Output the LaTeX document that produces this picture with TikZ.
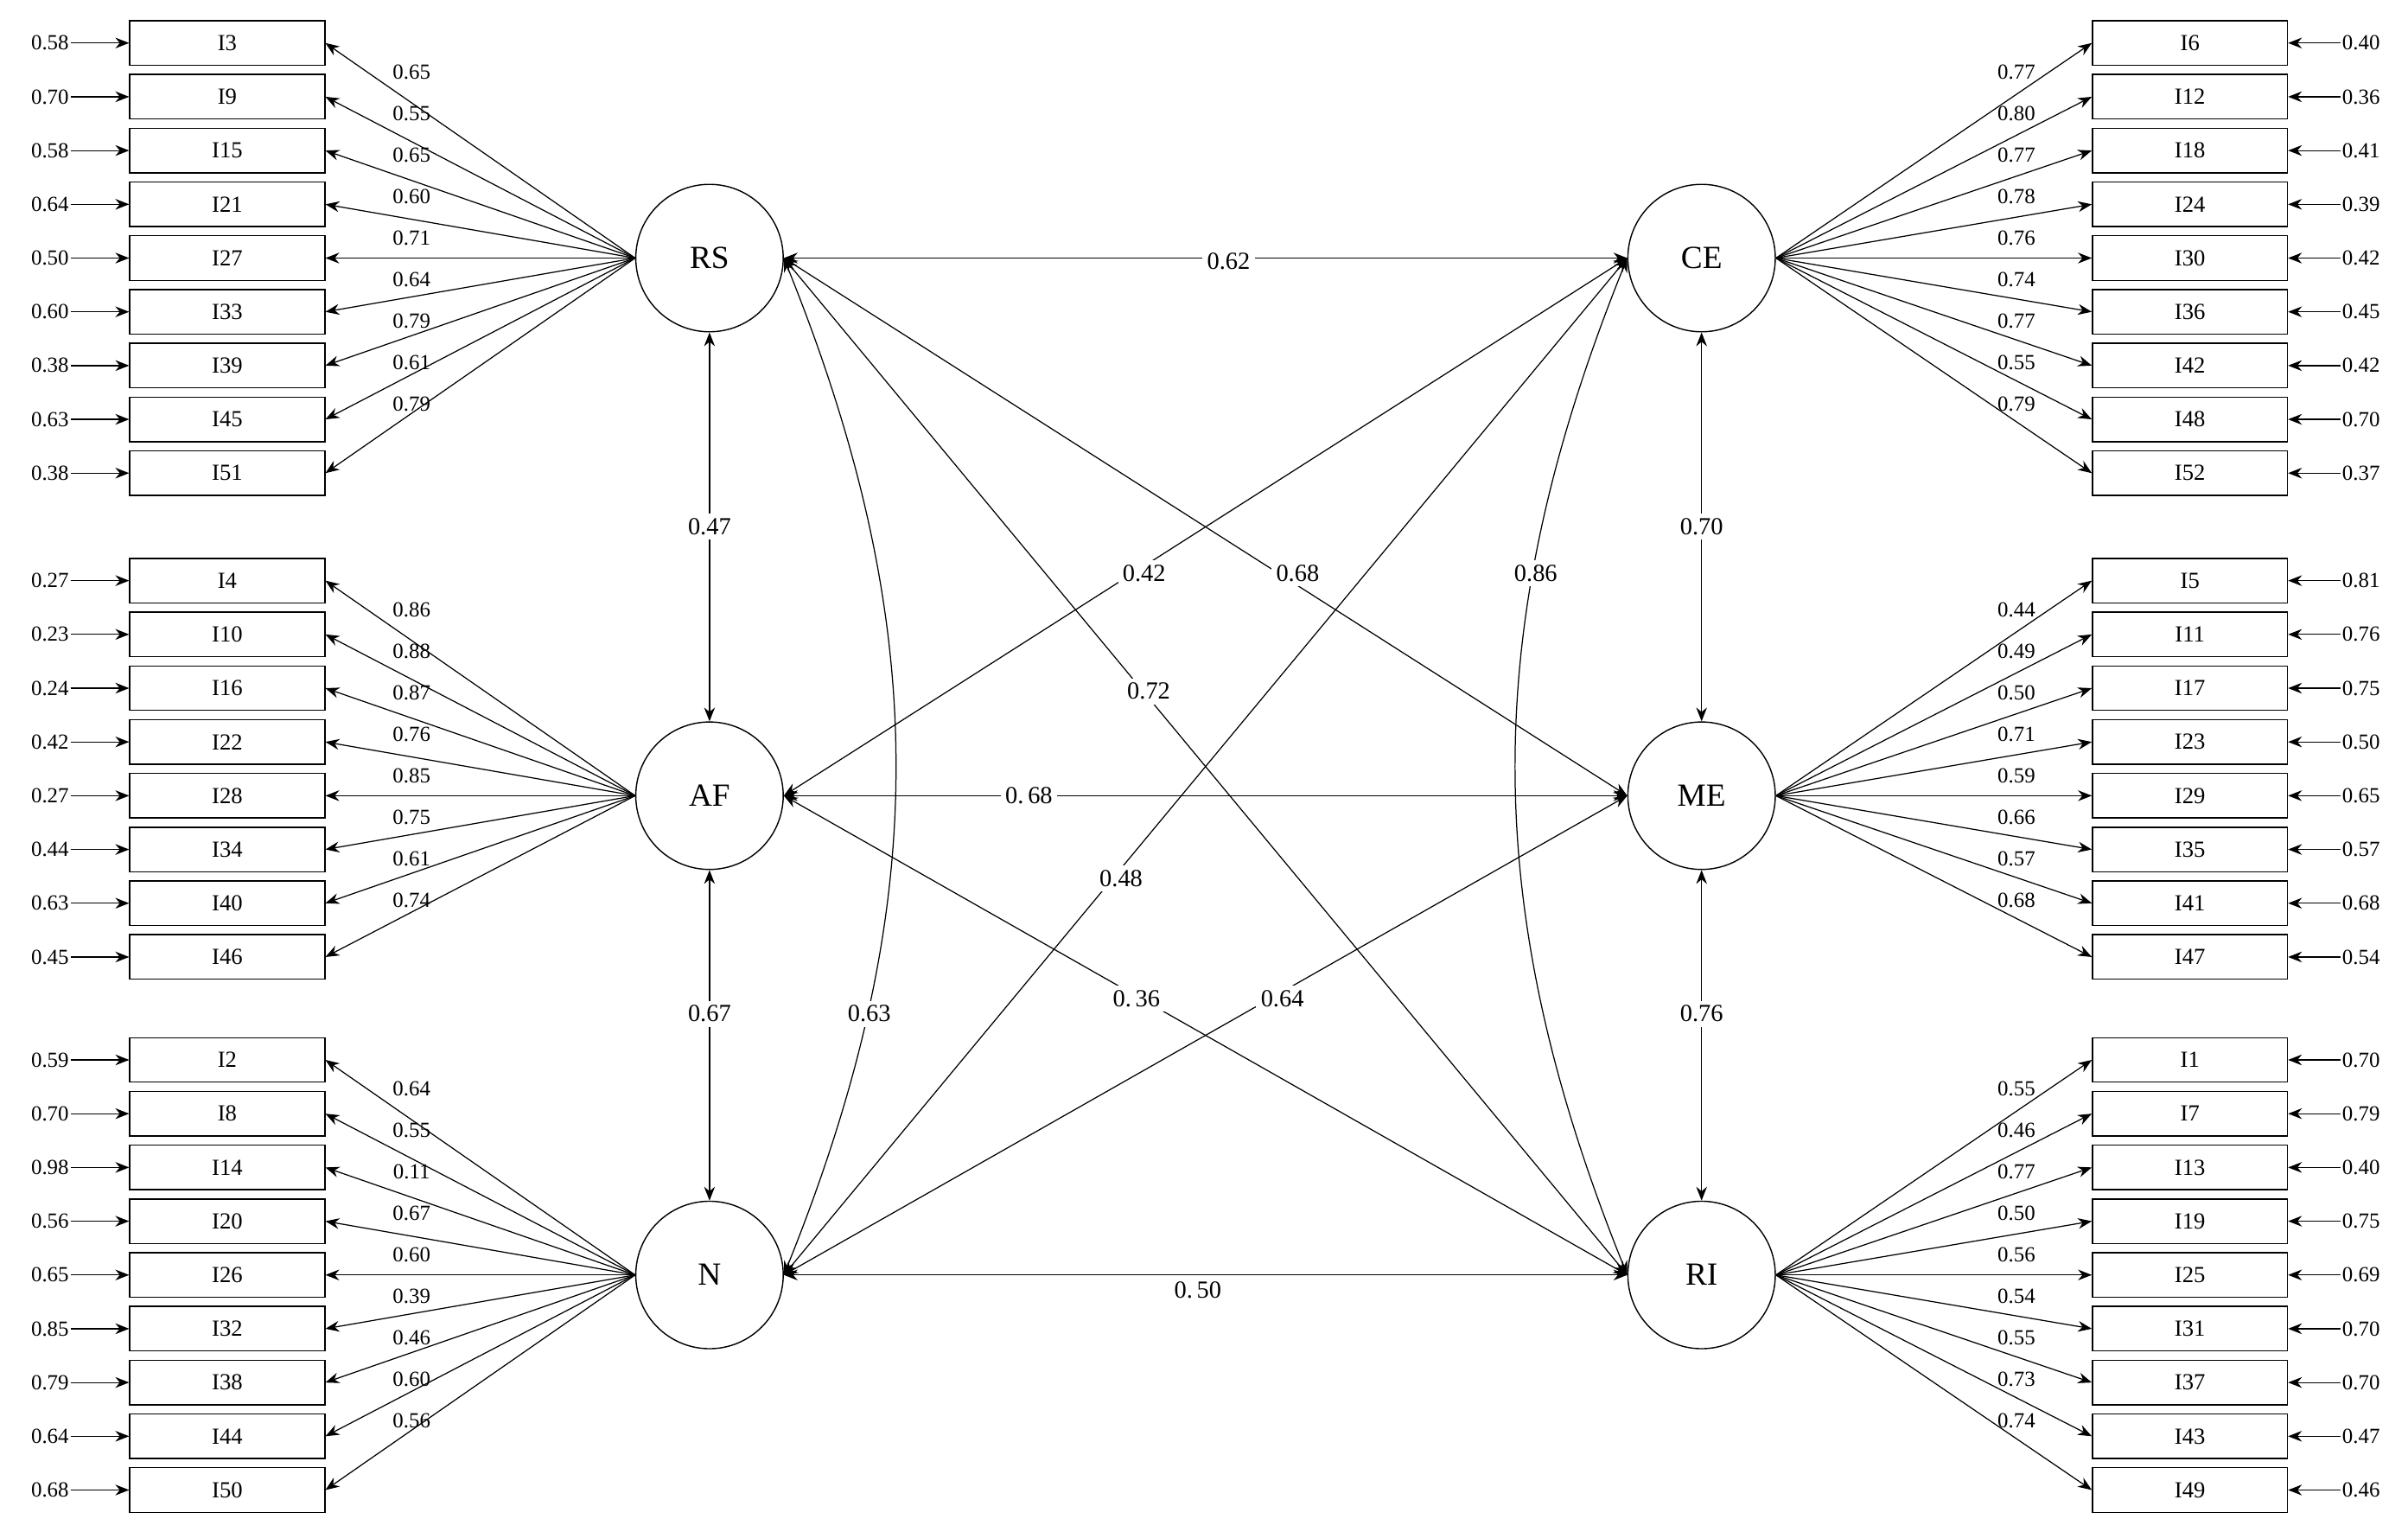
\documentclass[tikz,border=0pt]{standalone}
\usepackage{fontspec}
\setmainfont{Liberation Serif}
\usetikzlibrary{arrows.meta}
\begin{document}
\begin{tikzpicture}[x=1pt,y=-1pt,
  box/.style={draw,line width=0.8pt,minimum width=127pt,minimum height=29pt,inner sep=0pt,font=\fontsize{15}{16}\selectfont},
  lat/.style={draw,circle,line width=0.8pt,minimum size=96pt,inner sep=0pt,font=\fontsize{21}{22}\selectfont},
  num/.style={font=\fontsize{14}{15}\selectfont,inner sep=1pt},
  snum/.style={font=\fontsize{16}{17}\selectfont,fill=white,inner sep=3pt},
  arr/.style={-{Stealth[length=9pt,width=7pt]},line width=0.7pt},
  darr/.style={{Stealth[length=9pt,width=7pt]}-{Stealth[length=9pt,width=7pt]},line width=0.7pt}]
\useasboundingbox (0,0) rectangle (1568,1001);
\node[lat] (RS) at (462,168) {RS};
\node[lat] (AF) at (462,518) {AF};
\node[lat] (N) at (462,830) {N};
\node[lat] (CE) at (1108,168) {CE};
\node[lat] (ME) at (1108,518) {ME};
\node[lat] (RI) at (1108,830) {RI};
\newcommand\leftgroup[3]{%
 \foreach \a/\b/\c [count=\i from 0] in {#3} {
  \pgfmathsetmacro\yy{#2+35*\i}
  \pgfmathsetmacro\ly{#2+19+27*\i}
  \node[box] (b\a) at (148,\yy) {\a};
  \node[num,anchor=east] (e\a) at (46,\yy) {\b};
  \draw[arr] (e\a.east) -- (b\a.west);
  \draw[arr] (#1.west) -- (b\a.east);
  \node[num] at (268,\ly) {\c};
 }}
\newcommand\rightgroup[3]{%
 \foreach \a/\b/\c [count=\i from 0] in {#3} {
  \pgfmathsetmacro\yy{#2+35*\i}
  \pgfmathsetmacro\ly{#2+19+27*\i}
  \node[box] (b\a) at (1426,\yy) {\a};
  \node[num,anchor=west] (e\a) at (1524,\yy) {\b};
  \draw[arr] (e\a.west) -- (b\a.east);
  \draw[arr] (#1.east) -- (b\a.west);
  \node[num] at (1313,\ly) {\c};
 }}
\leftgroup{RS}{28}{I3/0.58/0.65,I9/0.70/0.55,I15/0.58/0.65,I21/0.64/0.60,I27/0.50/0.71,I33/0.60/0.64,I39/0.38/0.79,I45/0.63/0.61,I51/0.38/0.79}
\leftgroup{AF}{378}{I4/0.27/0.86,I10/0.23/0.88,I16/0.24/0.87,I22/0.42/0.76,I28/0.27/0.85,I34/0.44/0.75,I40/0.63/0.61,I46/0.45/0.74}
\leftgroup{N}{690}{I2/0.59/0.64,I8/0.70/0.55,I14/0.98/0.11,I20/0.56/0.67,I26/0.65/0.60,I32/0.85/0.39,I38/0.79/0.46,I44/0.64/0.60,I50/0.68/0.56}
\rightgroup{CE}{28}{I6/0.40/0.77,I12/0.36/0.80,I18/0.41/0.77,I24/0.39/0.78,I30/0.42/0.76,I36/0.45/0.74,I42/0.42/0.77,I48/0.70/0.55,I52/0.37/0.79}
\rightgroup{ME}{378}{I5/0.81/0.44,I11/0.76/0.49,I17/0.75/0.50,I23/0.50/0.71,I29/0.65/0.59,I35/0.57/0.66,I41/0.68/0.57,I47/0.54/0.68}
\rightgroup{RI}{690}{I1/0.70/0.55,I7/0.79/0.46,I13/0.40/0.77,I19/0.75/0.50,I25/0.69/0.56,I31/0.70/0.54,I37/0.70/0.55,I43/0.47/0.73,I49/0.46/0.74}
% structural
\draw[darr] (RS.east) -- (CE.west);
\draw[darr] (AF.east) -- (ME.west);
\draw[darr] (N.east) -- (RI.west);
\draw[darr] (RS) -- (AF);
\draw[darr] (AF) -- (N);
\draw[darr] (CE) -- (ME);
\draw[darr] (ME) -- (RI);
\draw[darr] (RS.east) -- (ME.west);
\draw[darr] (RS.east) -- (RI.west);
\draw[darr] (AF.east) -- (CE.west);
\draw[darr] (AF.east) -- (RI.west);
\draw[darr] (N.east) -- (CE.west);
\draw[darr] (N.east) -- (ME.west);
\draw[darr] (RS.east) to[bend left=22] (N.east);
\draw[darr] (CE.west) to[bend right=22] (RI.west);
\node[snum] at (800,170) {0.62};
\node[snum] at (670,518) {0.\,68};
\node[snum] at (780,840) {0.\,50};
\node[snum] at (462,343) {0.47};
\node[snum] at (462,660) {0.67};
\node[snum] at (1108,343) {0.70};
\node[snum] at (1108,660) {0.76};
\node[snum] at (845,373) {0.68};
\node[snum] at (748,450) {0.72};
\node[snum] at (745,373) {0.42};
\node[snum] at (740,650) {0.\,36};
\node[snum] at (730,572) {0.48};
\node[snum] at (835,650) {0.64};
\node[snum] at (566,660) {0.63};
\node[snum] at (1000,373) {0.86};
\end{tikzpicture}
\end{document}
